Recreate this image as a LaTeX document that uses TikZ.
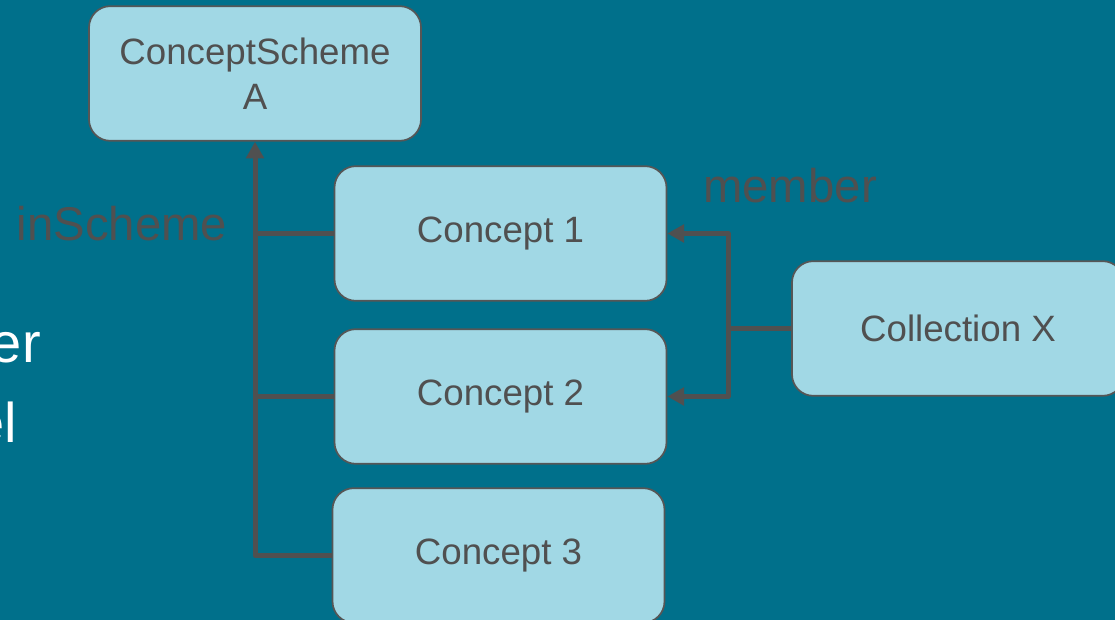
\documentclass[tikz,border=0pt]{standalone}
\usepackage{fontspec}
\setmainfont{Liberation Sans}
\usetikzlibrary{calc, positioning}
\usetikzlibrary{arrows.meta}

\begin{document}
\begin{tikzpicture}[x=0.75pt, y=0.75pt, line join=round,
    box/.style={draw=boxedge, fill=boxfill, line width=1.3pt, rounded corners=16pt,
        minimum width=249pt, minimum height=101pt, align=center, text=ink,
        font=\fontsize{27.5}{34}\selectfont},
    link/.style={draw=ink, line width=3.75pt},
    tip/.style={-{Triangle[length=12.5pt, width=13pt]}},
    rel/.style={text=ink, font=\fontsize{35.5}{42}\selectfont},
    slide/.style={text=white, font=\fontsize{42}{50}\selectfont}]
\definecolor{slidebg}{HTML}{00708B}
\definecolor{boxfill}{HTML}{A1D8E5}
\definecolor{boxedge}{HTML}{565656}
\definecolor{ink}{HTML}{505050}

% background
\fill[slidebg] (0,0) rectangle (1115,620);
\useasboundingbox (0,0) rectangle (1115,620);

% words of the slide text behind
\node[slide, anchor=base east, inner sep=0pt] (txter) at (41,257) {er};
\node[slide, anchor=base east, inner sep=0pt] (txtel) at (17,177) {el};

% boxes
\node[box] (scheme) at (255,546.5) {ConceptScheme\\A};
\node[box] (c1) at (500.5,386.5) {Concept 1};
\node[box] (c2) at (500.5,223.5) {Concept 2};
\node[box] (c3) at (498.5,64.5) {Concept 3};
\node[box] (coll) at (958,291.5) {Collection X};

% inScheme links
\draw[link, tip] (c3.west) -| (scheme.south);
\draw[link] (c1.west) -- (c1.west -| scheme.south);
\draw[link] (c2.west) -- (c2.west -| scheme.south);
\node[rel] (inscheme) at (122,396) {inScheme};

% member links
\coordinate (split) at ($(coll.west)+(-63,0)$);
\draw[link] (coll.west) -- (split);
\draw[link, tip] (split) |- (c1.east);
\draw[link, tip] (split) |- (c2.east);
\node[rel] (member) at (790,434) {member};
\end{tikzpicture}
\end{document}
